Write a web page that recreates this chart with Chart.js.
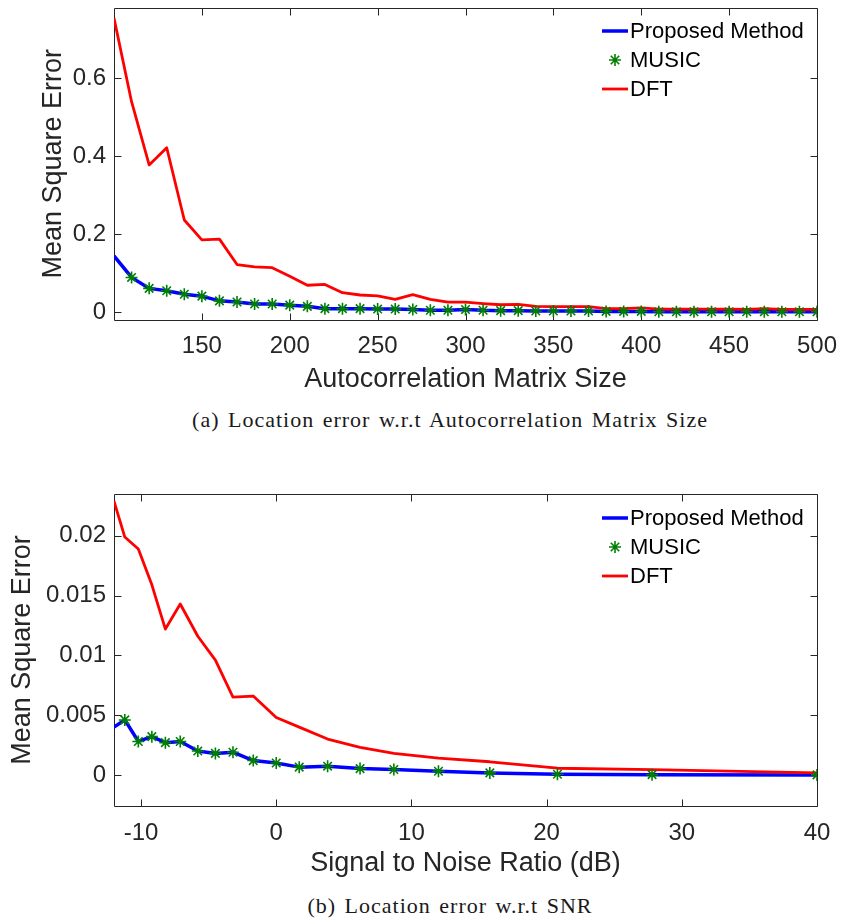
<!DOCTYPE html>
<html>
<head>
<meta charset="utf-8">
<script src="https://cdn.jsdelivr.net/npm/chart.js@4.4.1/dist/chart.umd.min.js"></script>
<style>
  html, body { margin: 0; padding: 0; background: #fff; }
  body { width: 841px; height: 920px; position: relative; overflow: hidden; }
  .panel { position: absolute; left: 0; width: 841px; }
  .cap { position: absolute; left: 0; width: 900px; text-align: center;
         font-family: "Liberation Serif", "DejaVu Serif", serif; font-size: 22px; color: #1a1a1a;
         letter-spacing: 1px; word-spacing: 2px; white-space: nowrap; }
</style>
</head>
<body>
<div class="panel" style="top:0;height:400px"><canvas id="chartSize" width="841" height="400"></canvas></div>
<div class="cap" style="top:407px">(a) Location error w.r.t Autocorrelation Matrix Size</div>
<div class="panel" style="top:440px;height:450px"><canvas id="chartSnr" width="841" height="450"></canvas></div>
<div class="cap" style="top:893px">(b) Location error w.r.t SNR</div>

<script>
// ---- (a) error vs. autocorrelation matrix size ----
const matrixSize = [100, 110, 120, 130, 140, 150, 160, 170, 180, 190,
                    200, 210, 220, 230, 240, 250, 260, 270, 280, 290,
                    300, 310, 320, 330, 340, 350, 360, 370, 380, 390,
                    400, 410, 420, 430, 440, 450, 460, 470, 480, 490, 500];
const dftBySize = [0.753, 0.539, 0.377, 0.421, 0.236, 0.185, 0.187, 0.122, 0.116, 0.114,
                   0.092, 0.069, 0.071, 0.050, 0.044, 0.042, 0.033, 0.045, 0.033, 0.026,
                   0.026, 0.022, 0.019, 0.020, 0.015, 0.014, 0.014, 0.014, 0.009, 0.009,
                   0.011, 0.008, 0.008, 0.008, 0.008, 0.008, 0.007, 0.009, 0.007, 0.007, 0.007];
const proposedBySize = [0.144, 0.089, 0.061, 0.055, 0.046, 0.041, 0.029, 0.026, 0.021, 0.021,
                        0.018, 0.015, 0.009, 0.009, 0.009, 0.008, 0.008, 0.007, 0.005, 0.005,
                        0.007, 0.005, 0.004, 0.004, 0.003, 0.003, 0.003, 0.003, 0.002, 0.002,
                        0.002, 0.001, 0.001, 0.001, 0.001, 0.001, 0.001, 0.001, 0.001, 0.001, 0.001];
const musicBySize = [null, 0.089, 0.061, 0.055, 0.046, 0.041, 0.029, 0.026, 0.021, 0.021,
                     0.018, 0.015, 0.009, 0.009, 0.009, 0.008, 0.008, 0.007, 0.005, 0.005,
                     0.007, 0.005, 0.004, 0.004, 0.003, 0.003, 0.003, 0.003, 0.002, 0.002,
                     0.002, 0.001, 0.001, 0.001, 0.001, 0.001, 0.001, 0.001, 0.001, 0.001, 0.001];
const sizeTicks = [150, 200, 250, 300, 350, 400, 450, 500];
const mseTicksSize = [0, 0.2, 0.4, 0.6];

// ---- (b) error vs. SNR ----
const snrDb = [-12, -11.2, -10.2, -9.2, -8.2, -7.1, -5.8, -4.5, -3.2, -1.7,
               0, 1.7, 3.8, 6.2, 8.7, 12, 15.8, 20.8, 27.8, 40];
const dftBySnr = [0.0229, 0.0199, 0.0189, 0.0159, 0.0122, 0.0143, 0.0116, 0.0096, 0.0065, 0.0066,
                  0.0048, 0.0040, 0.0030, 0.0023, 0.0018, 0.0014, 0.0011, 0.00056, 0.00045, 0.00017];
const proposedBySnr = [0.0040, 0.0046, 0.0028, 0.0032, 0.0027, 0.0028, 0.0020, 0.0018, 0.0019, 0.0012,
                       0.0010, 0.00065, 0.00073, 0.00053, 0.00045, 0.00031, 0.00017, 0.00006, 0.00002, 0.0];
const musicBySnr = [null, 0.0046, 0.0028, 0.0032, 0.0027, 0.0028, 0.0020, 0.0018, 0.0019, 0.0012,
                    0.0010, 0.00065, 0.00073, 0.00053, 0.00045, 0.00031, 0.00017, 0.00006, 0.00002, 0.0];
const snrTicks = [-10, 0, 10, 20, 30, 40];
const mseTicksSnr = [0, 0.005, 0.01, 0.015, 0.02];

const seriesNames = ['Proposed Method', 'MUSIC', 'DFT'];

const AXIS_COLOR = '#262626';
const SANS = '"Liberation Sans", Arial, Helvetica, sans-serif';

function points(xs, ys) {
  return xs.map((x, i) => ({ x: x, y: ys[i] }));
}

// Box around the plot area with inward tick marks on all four sides, plus an in-axes legend.
const axesFrame = {
  id: 'axesFrame',
  beforeDatasetsDraw(chart, args, opts) {
    const { ctx, chartArea: a, scales } = chart;
    const L = Math.round(a.left) + 0.5, R = Math.round(a.right) + 0.5;
    const T = Math.round(a.top) + 0.5, B = Math.round(a.bottom) + 0.5;
    const len = 7;
    ctx.save();
    ctx.strokeStyle = AXIS_COLOR;
    ctx.lineWidth = 1;
    ctx.beginPath();
    ctx.rect(L, T, R - L, B - T);
    scales.x.ticks.forEach(t => {
      const px = Math.round(scales.x.getPixelForValue(t.value)) + 0.5;
      ctx.moveTo(px, B); ctx.lineTo(px, B - len);
      ctx.moveTo(px, T); ctx.lineTo(px, T + len);
    });
    scales.y.ticks.forEach(t => {
      const py = Math.round(scales.y.getPixelForValue(t.value)) + 0.5;
      ctx.moveTo(L, py); ctx.lineTo(L + len, py);
      ctx.moveTo(R, py); ctx.lineTo(R - len, py);
    });
    ctx.stroke();
    ctx.restore();
  },
  afterDraw(chart, args, opts) {
    const { ctx } = chart;
    const x0 = opts.x, sample = 26;
    ctx.save();
    ctx.font = '22px ' + SANS;
    ctx.textBaseline = 'middle';
    ctx.textAlign = 'left';
    chart.data.datasets.forEach((ds, i) => {
      const y = opts.y + i * opts.step;
      if (ds.showLine === false) {
        ctx.save();
        ctx.strokeStyle = ds.pointBorderColor;
        ctx.fillStyle = ds.pointBackgroundColor;
        ctx.lineWidth = ds.pointBorderWidth;
        Chart.helpers.drawPoint(ctx, {
          pointStyle: ds.pointStyle, radius: ds.pointRadius, borderWidth: ds.pointBorderWidth
        }, x0 + sample / 2, y);
        ctx.restore();
      } else {
        ctx.strokeStyle = ds.borderColor;
        ctx.lineWidth = ds.borderWidth;
        ctx.beginPath();
        ctx.moveTo(x0, y); ctx.lineTo(x0 + sample, y);
        ctx.stroke();
      }
      ctx.fillStyle = '#000';
      ctx.fillText(ds.label, x0 + sample + 2, y + 1);
    });
    ctx.restore();
  }
};

function makeChart(id, cfg) {
  const canvas = document.getElementById(id);
  const H = canvas.height;
  const datasets = [
    { label: seriesNames[0], data: points(cfg.xs, cfg.proposed), borderColor: '#0000ff', backgroundColor: '#0000ff',
      borderWidth: 3.5, pointRadius: 0, tension: 0, borderJoinStyle: 'round', order: 3 },
    { label: seriesNames[1], data: points(cfg.xs, cfg.music), showLine: false, pointStyle: 'star',
      pointRadius: 6, pointBorderColor: '#008000', pointBackgroundColor: 'rgba(0,0,0,0)', pointBorderWidth: 1.6,
      borderColor: '#008000', backgroundColor: 'rgba(0,0,0,0)', order: 1 },
    { label: seriesNames[2], data: points(cfg.xs, cfg.dft), borderColor: '#ff0000', backgroundColor: '#ff0000',
      borderWidth: 2.8, pointRadius: 0, tension: 0, borderJoinStyle: 'round', order: 2 }
  ];
  return new Chart(canvas, {
    type: 'line',
    data: { datasets: datasets },
    plugins: [axesFrame],
    options: {
      responsive: false,
      animation: false,
      events: [],
      layout: { padding: { top: cfg.plotTop, right: 24, left: 0, bottom: 0 } },
      plugins: {
        legend: { display: false },
        tooltip: { enabled: false },
        axesFrame: { x: 602, y: cfg.legendY, step: 29 }
      },
      scales: {
        x: {
          type: 'linear', min: cfg.xMin, max: cfg.xMax,
          afterBuildTicks: s => { s.ticks = cfg.xTicks.map(v => ({ value: v })); },
          afterFit: s => { s.height = H - cfg.plotBottom; s.paddingLeft = 0; s.paddingRight = 0; },
          grid: { display: false, drawTicks: false }, border: { display: false },
          ticks: { font: { family: SANS, size: 24 }, color: AXIS_COLOR, padding: cfg.xTickPad,
                   maxRotation: 0, autoSkip: false, callback: v => String(v) },
          title: { display: true, text: cfg.xTitle, color: AXIS_COLOR,
                   font: { family: SANS, size: 27 }, padding: { top: 0, bottom: cfg.xTitlePad } }
        },
        y: {
          type: 'linear', min: cfg.yMin, max: cfg.yMax,
          afterBuildTicks: s => { s.ticks = cfg.yTicks.map(v => ({ value: v })); },
          afterFit: s => { s.width = 114; s.paddingTop = 0; s.paddingBottom = 0; },
          grid: { display: false, drawTicks: false }, border: { display: false },
          ticks: { font: { family: SANS, size: 24 }, color: AXIS_COLOR, padding: 8,
                   autoSkip: false, callback: v => String(v) },
          title: { display: true, text: 'Mean Square Error', color: AXIS_COLOR,
                   font: { family: SANS, size: 27 }, padding: { top: cfg.yTitlePad, bottom: 0 } }
        }
      }
    }
  });
}

makeChart('chartSize', {
  xs: matrixSize, proposed: proposedBySize, music: musicBySize, dft: dftBySize,
  xMin: 100, xMax: 500, yMin: -0.02, yMax: 0.78,
  xTicks: sizeTicks, yTicks: mseTicksSize,
  plotTop: 7, plotBottom: 320, legendY: 31,
  xTitle: 'Autocorrelation Matrix Size', xTitlePad: 4, xTickPad: 12, yTitlePad: 37
});

makeChart('chartSnr', {
  xs: snrDb, proposed: proposedBySnr, music: musicBySnr, dft: dftBySnr,
  xMin: -12, xMax: 40, yMin: -0.0026, yMax: 0.0235,
  xTicks: snrTicks, yTicks: mseTicksSnr,
  plotTop: 54, plotBottom: 366, legendY: 78,
  xTitle: 'Signal to Noise Ratio (dB)', xTitlePad: 10, xTickPad: 13, yTitlePad: 6
});
</script>
</body>
</html>
